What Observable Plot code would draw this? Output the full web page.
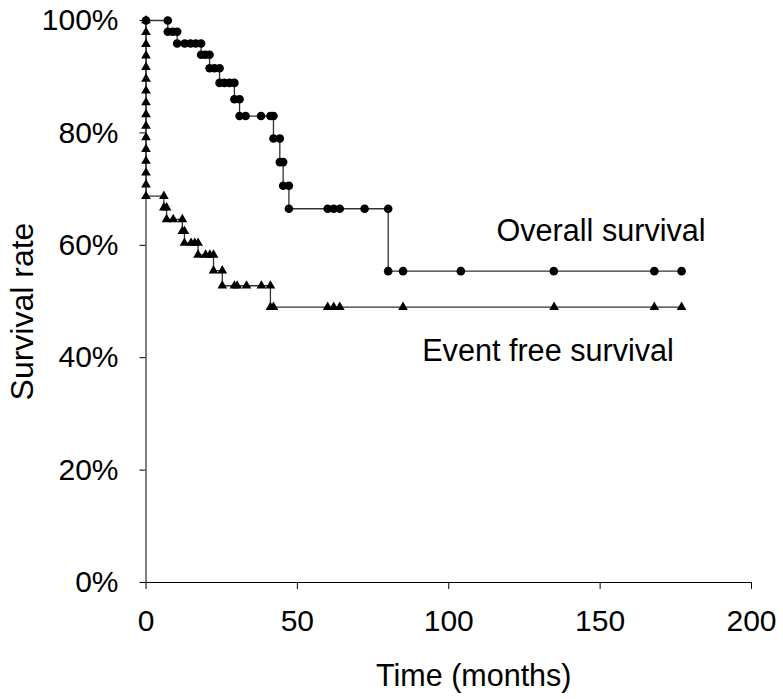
<!DOCTYPE html>
<html>
<head>
<meta charset="utf-8">
<script src="https://cdn.jsdelivr.net/npm/d3@7"></script>
<script src="https://cdn.jsdelivr.net/npm/@observablehq/plot@0.6"></script>
<style>
  html, body { margin: 0; padding: 0; background: #fff; }
  #chart svg { display: block; }
</style>
</head>
<body>
<div id="chart"></div>
<script>
// Overall survival (Kaplan–Meier step points, months / %)
const osTime = [0, 7.2,
  7.2, 8.8, 10.3,
  10.3, 12.8, 14.7, 16.4, 18.2,
  18.2, 19.6, 21.0,
  21.0, 22.6, 24.3,
  24.3, 25.9, 27.6, 29.2,
  29.2, 30.9,
  30.9, 32.9, 38.0, 41.1, 42.1,
  42.1, 44.2,
  44.2, 45.3,
  45.3, 47.2,
  47.2, 60.0, 62.0, 64.0, 72.2, 80.0,
  80.0, 84.9, 104.0, 134.7, 167.9, 176.9];
const osSurv = [100, 100,
  98.0, 98.0, 98.0,
  95.9, 95.9, 95.9, 95.9, 95.9,
  93.9, 93.9, 93.9,
  91.5, 91.5, 91.5,
  88.9, 88.9, 88.9, 88.9,
  86.0, 86.0,
  83.0, 83.0, 83.0, 83.0, 83.0,
  79.0, 79.0,
  74.8, 74.8,
  70.6, 70.6,
  66.5, 66.5, 66.5, 66.5, 66.5, 66.5,
  55.4, 55.4, 55.4, 55.4, 55.4, 55.4];

// Event free survival
const efsTime = [0, 0, 0, 0, 0, 0, 0, 0, 0, 0, 0, 0, 0, 0, 0, 0, 5.9,
  5.9, 6.8,
  6.8, 9.0, 12.0,
  12.0, 12.7,
  12.7, 14.9, 16.1, 17.2,
  17.2, 19.7, 21.1, 22.3,
  22.3, 25.2,
  25.2, 29.2, 30.1, 33.2, 38.1, 41.1,
  41.1, 42.1, 60.0, 62.0, 64.0, 84.9, 134.8, 167.9, 176.9];
const efsSurv = [100, 97.9, 95.8, 93.75, 91.7, 89.6, 87.5, 85.4, 83.3, 81.25, 79.2, 77.1, 75.0, 72.9, 70.8, 68.75, 68.75,
  66.7, 66.7,
  64.6, 64.6, 64.6,
  62.5, 62.5,
  60.4, 60.4, 60.4, 60.4,
  58.3, 58.3, 58.3, 58.3,
  55.5, 55.5,
  52.8, 52.8, 52.8, 52.8, 52.8, 52.8,
  49.0, 49.0, 49.0, 49.0, 49.0, 49.0, 49.0, 49.0, 49.0];

const xTicks = [0, 50, 100, 150, 200];
const yTicks = [0, 20, 40, 60, 80, 100];
const seriesLabels = ["Overall survival", "Event free survival"];
const xLabel = "Time (months)";
const yLabel = "Survival rate";

const os = osTime.map((t, i) => ({t, s: osSurv[i]}));
const efs = efsTime.map((t, i) => ({t, s: efsSurv[i]}));

const font = "'Liberation Sans', Arial, sans-serif";
const lineColor = "#333";

const chart = Plot.plot({
  width: 783,
  height: 699,
  marginLeft: 145.5,
  marginRight: 32,
  marginTop: 20,
  marginBottom: 117,
  style: {fontFamily: font, fontSize: "30px", color: "#000", background: "#fff", overflow: "visible"},
  x: {domain: [0, 200]},
  y: {domain: [0, 100]},
  marks: [
    Plot.ruleX([0], {stroke: "#000", strokeWidth: 1}),
    Plot.ruleY([0], {stroke: "#000", strokeWidth: 1}),
    Plot.axisX({ticks: xTicks, tickSize: 7, tickPadding: 20, fontSize: 30, label: null}),
    Plot.axisY({ticks: yTicks, tickSize: 6, tickPadding: 21.5, fontSize: 30, tickFormat: d => d + "%", label: null}),
    Plot.line(os, {x: "t", y: "s", stroke: lineColor, strokeWidth: 1.3}),
    Plot.line(efs, {x: "t", y: "s", stroke: lineColor, strokeWidth: 1.3}),
    Plot.dot(os, {x: "t", y: "s", r: 4.3, fill: "#000", stroke: "none", symbol: "circle"}),
    Plot.dot(efs, {x: "t", y: "s", r: 3.6, fill: "#000", stroke: "none", symbol: "triangle"}),
    Plot.text([seriesLabels[0]], {frameAnchor: "top-left", textAnchor: "start", lineAnchor: "middle", dx: 350.5, dy: 210.4, fontSize: 30.6, fill: "#000"}),
    Plot.text([seriesLabels[1]], {frameAnchor: "top-left", textAnchor: "start", lineAnchor: "middle", dx: 276.2, dy: 330.4, fontSize: 30.6, fill: "#000"}),
    Plot.text([xLabel], {frameAnchor: "bottom", textAnchor: "middle", lineAnchor: "middle", dx: 25, dy: 93.4, fontSize: 30.5, fill: "#000"}),
    Plot.text([yLabel], {frameAnchor: "left", textAnchor: "middle", lineAnchor: "middle", rotate: -90, dx: -123.5, dy: 10, fontSize: 32, fill: "#000"})
  ]
});
document.getElementById("chart").appendChild(chart);
</script>
</body>
</html>
